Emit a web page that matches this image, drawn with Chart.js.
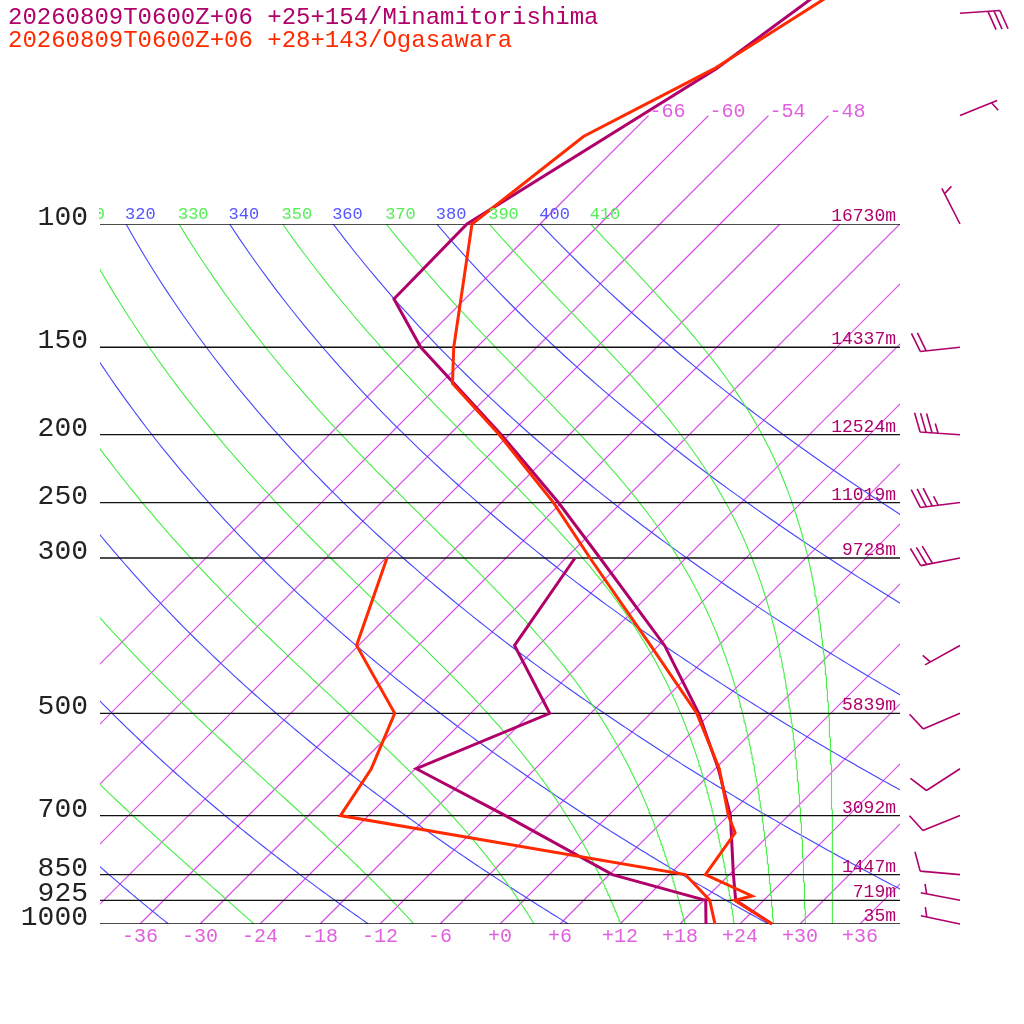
<!DOCTYPE html>
<html>
<head>
<meta charset="utf-8">
<title>Skew-T</title>
<script src="https://cdn.jsdelivr.net/npm/chart.js@4.4.1/dist/chart.umd.min.js"></script>
<style>
  html, body { margin: 0; padding: 0; background: #fff; }
</style>
</head>
<body>
<canvas id="skewChart" width="1024" height="1024"></canvas>
<script>
// Station titles and colours
const stationNames = ["20260809T0600Z+06 +25+154/Minamitorishima", "20260809T0600Z+06 +28+143/Ogasawara"];
const stationColors = ["#b0006a", "#ff2a00"];

// Minamitorishima temperature / dew point (hPa, degC)
const minamiTempP = [1000, 925, 850, 700, 600, 500, 400, 300, 250, 200, 150, 128, 100, 60, 40];
const minamiTempT = [27.2, 21.2, 18.4, 12.2, 6.3, -1.2, -11.4, -26.6, -36.3, -48.8, -65.6, -73.1, -73.3, -63.9, -59.5];
const minamiDewP = [1000, 925, 850, 700, 600, 500, 400, 300];
const minamiDewT = [20.6, 18.2, 6.3, -10.3, -23.9, -16.1, -26.4, -29.1];

// Ogasawara temperature / dew point
const ogaTempP = [1000, 925, 912, 850, 741, 700, 600, 500, 400, 300, 250, 200, 169, 150, 100, 75, 60, 40];
const ogaTempT = [27.2, 21.1, 22.4, 15.6, 14.4, 12.0, 6.4, -1.4, -12.8, -27.6, -36.8, -49.0, -58.8, -62.3, -72.8, -70.4, -64.1, -57.0];
const ogaDewP = [1000, 925, 850, 700, 600, 500, 400, 300];
const ogaDewT = [21.5, 18.6, 13.6, -26.8, -28.4, -31.6, -42.2, -47.9];

// Winds (Minamitorishima)
const windP = [1000, 925, 850, 700, 600, 500, 400, 300, 250, 200, 150, 100, 70, 50];
const windDir = [282, 281, 275, 248, 237, 247, 241, 259, 263, 274, 264, 333, 68, 86];
const windKt = [5, 5, 10, 10, 10, 10, 5, 30, 35, 35, 20, 5, 5, 30];

// Axes / background
const pressureLevels = [100, 150, 200, 250, 300, 500, 700, 850, 925, 1000];
const heightLabels = ["16730m", "14337m", "12524m", "11019m", "9728m", "5839m", "3092m", "1447m", "719m", "35m"];
const tempTicks = [-36, -30, -24, -18, -12, -6, 0, 6, 12, 18, 24, 30, 36];
const isotherms = [-66, -60, -54, -48, -42, -36, -30, -24, -18, -12, -6, 0, 6, 12, 18, 24, 30, 36];
const topIsotherms = [-66, -60, -54, -48];
const dryThetas = [240, 260, 280, 300, 320, 340, 360, 380, 400];
const moistThetas = [250, 270, 290, 310, 330, 350, 370, 390, 410];

const isoColor = "#d848e8";
const dryColor = "#4444ff";
const moistColor = "#44ee44";

// skew: 70 degrees per decade of pressure
function skewX(t, p) {
	return t + 70 * Math.log10(1000 / p);
}

// saturated equivalent potential temperature (Bolton)
function thetaE(tc, p) {
	const tk = tc + 273.15;
	const es = 6.112 * Math.exp(17.67 * tc / (tc + 243.5));
	const r = 622 * es / (p - es);
	const theta = tk * Math.pow(1000 / p, 0.2854 * (1 - 0.00028 * r));
	return theta * Math.exp((3.376 / tk - 0.00254) * r * (1 + 0.00081 * r));
}

function moistTemp(the, p) {
	let lo = -160, hi = 40;
	for (let i = 0; i < 60; i++) {
		const mid = (lo + hi) / 2;
		if (thetaE(mid, p) > the) hi = mid; else lo = mid;
	}
	return (lo + hi) / 2;
}

// pressure steps for the background lines
const curveP = [];
for (let p = 1000; p >= 100; p -= 5) curveP.push(p);
const upperP = [100, 70];

function lineSet(points, color, width, extra) {
	return Object.assign({
		data: points,
		showLine: true,
		borderColor: color,
		backgroundColor: color,
		borderWidth: width,
		pointRadius: 0,
		pointHoverRadius: 0,
		fill: false
	}, extra || {});
}

// Chart.js draws the first dataset on top, so build the list top-down
const datasets = [];

// soundings (Ogasawara above Minamitorishima)
function profile(ps, ts) {
	return ps.map(function (p, i) { return { x: skewX(ts[i], p), y: p }; });
}
datasets.push(lineSet(profile(ogaTempP, ogaTempT), stationColors[1], 3, { clip: false }));
datasets.push(lineSet(profile(ogaDewP, ogaDewT), stationColors[1], 3, { clip: false }));
datasets.push(lineSet(profile(minamiTempP, minamiTempT), stationColors[0], 3, { clip: false }));
datasets.push(lineSet(profile(minamiDewP, minamiDewT), stationColors[0], 3, { clip: false }));

// pressure lines
pressureLevels.forEach(function (p) {
	datasets.push(lineSet([{ x: -40, y: p }, { x: 40, y: p }], "#111", 1.3));
});

// moist adiabats
moistThetas.forEach(function (th) {
	const pts = curveP.map(function (p) {
		return { x: skewX(moistTemp(th, p), p), y: p };
	});
	datasets.push(lineSet(pts, moistColor, 1.1));
});

// dry adiabats
dryThetas.forEach(function (th) {
	const pts = curveP.map(function (p) {
		return { x: skewX(th * Math.pow(p / 1000, 0.2857) - 273.15, p), y: p };
	});
	datasets.push(lineSet(pts, dryColor, 1.1));
});

// isotherms (the labelled ones go on above 100 hPa)
isotherms.forEach(function (t) {
	datasets.push(lineSet([{ x: skewX(t, 1000), y: 1000 }, { x: skewX(t, 100), y: 100 }], isoColor, 1.2));
});
topIsotherms.forEach(function (t) {
	const pts = upperP.map(function (p) { return { x: skewX(t, p), y: p }; });
	datasets.push(lineSet(pts, isoColor, 1.2, { clip: false }));
});

// wind barb
function drawBarb(ctx, x0, y0, dir, speed) {
	const rad = dir * Math.PI / 180;
	const ux = Math.sin(rad), uy = -Math.cos(rad);
	const tipX = x0 + ux * 40, tipY = y0 + uy * 40;
	const a = 70 * Math.PI / 180;
	const fx = ux * Math.cos(a) - uy * Math.sin(a);
	const fy = ux * Math.sin(a) + uy * Math.cos(a);
	ctx.beginPath();
	ctx.moveTo(x0, y0);
	ctx.lineTo(tipX, tipY);
	const full = Math.floor(speed / 10);
	const half = speed % 10 >= 5;
	let pos = (full === 0 && half) ? 1 : 0;
	for (let i = 0; i < full; i++) {
		const bx = tipX - ux * 6 * pos, by = tipY - uy * 6 * pos;
		ctx.moveTo(bx, by);
		ctx.lineTo(bx + fx * 20, by + fy * 20);
		pos++;
	}
	if (half) {
		const bx = tipX - ux * 6 * pos, by = tipY - uy * 6 * pos;
		ctx.moveTo(bx, by);
		ctx.lineTo(bx + fx * 10, by + fy * 10);
	}
	ctx.stroke();
}

// texts and barbs
const labelPlugin = {
	id: "skewLabels",
	afterDraw: function (chart) {
		const ctx = chart.ctx;
		const xs = chart.scales.x, ys = chart.scales.y;
		const area = chart.chartArea;
		ctx.save();

		// pressure labels
		ctx.font = "28px 'Liberation Mono', monospace";
		ctx.fillStyle = "#222";
		ctx.textAlign = "right";
		ctx.textBaseline = "alphabetic";
		pressureLevels.forEach(function (p) {
			ctx.fillText(String(p), area.left - 12, ys.getPixelForValue(p) + 1);
		});

		// height labels
		ctx.font = "18px 'Liberation Mono', monospace";
		ctx.fillStyle = stationColors[0];
		pressureLevels.forEach(function (p, i) {
			ctx.fillText(heightLabels[i], area.right - 4, ys.getPixelForValue(p) - 3);
		});

		// temperature labels at the bottom
		ctx.font = "20px 'Liberation Mono', monospace";
		ctx.fillStyle = "#e060e0";
		ctx.textAlign = "center";
		ctx.textBaseline = "middle";
		tempTicks.forEach(function (t) {
			const txt = t < 0 ? String(t) : "+" + t;
			ctx.fillText(txt, xs.getPixelForValue(skewX(t, 1000)), area.bottom + 13);
		});

		// isotherm labels at the top
		ctx.textAlign = "left";
		ctx.textBaseline = "alphabetic";
		topIsotherms.forEach(function (t) {
			ctx.fillText(String(t), xs.getPixelForValue(skewX(t, 70)) + 1, ys.getPixelForValue(70) + 1);
		});

		// adiabat labels
		ctx.save();
		ctx.beginPath();
		ctx.rect(area.left - 1, 0, chart.width, chart.height);
		ctx.clip();
		ctx.font = "17px 'Liberation Mono', monospace";
		const topY = ys.getPixelForValue(100) - 5;
		ctx.fillStyle = "#5555ff";
		dryThetas.forEach(function (th) {
			const x = xs.getPixelForValue(skewX(th * Math.pow(0.1, 0.2857) - 273.15, 100));
			if (x < area.right - 20) ctx.fillText(String(th), x - 1, topY);
		});
		ctx.fillStyle = "#55ee55";
		moistThetas.forEach(function (th) {
			const x = xs.getPixelForValue(skewX(moistTemp(th, 100), 100));
			if (x < area.right - 20) ctx.fillText(String(th), x - 1, topY);
		});
		ctx.restore();

		// titles
		ctx.font = "24px 'Liberation Mono', monospace";
		ctx.textAlign = "left";
		ctx.textBaseline = "middle";
		stationNames.forEach(function (name, i) {
			ctx.fillStyle = stationColors[i];
			ctx.fillText(name, 8, 18 + i * 23);
		});

		// wind barbs
		ctx.strokeStyle = stationColors[0];
		ctx.lineWidth = 1.6;
		windP.forEach(function (p, i) {
			drawBarb(ctx, area.right + 60, ys.getPixelForValue(p), windDir[i], windKt[i]);
		});

		ctx.restore();
	}
};

new Chart(document.getElementById("skewChart").getContext("2d"), {
	type: "scatter",
	data: { datasets: datasets },
	options: {
		responsive: false,
		animation: false,
		devicePixelRatio: 1,
		layout: { padding: { left: 100, right: 124, top: 224, bottom: 100 } },
		plugins: { legend: { display: false }, tooltip: { enabled: false } },
		elements: { line: { tension: 0 } },
		scales: {
			x: { type: "linear", min: -40, max: 40, display: false },
			y: { type: "logarithmic", min: 100, max: 1000, reverse: true, display: false }
		}
	},
	plugins: [labelPlugin]
});
</script>
</body>
</html>
